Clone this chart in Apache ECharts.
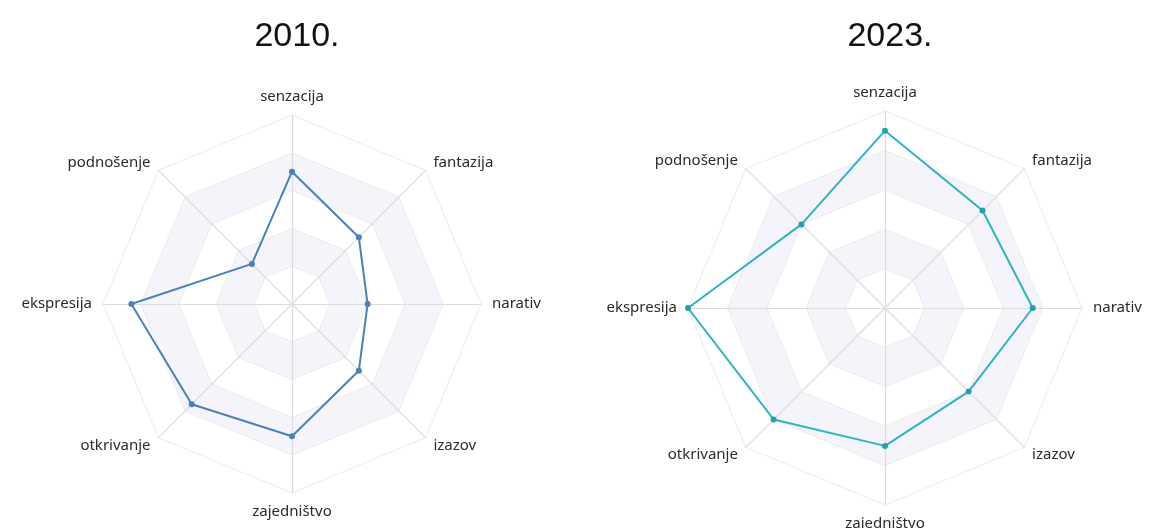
<!DOCTYPE html>
<html>
<head>
<meta charset="utf-8">
<script src="https://cdn.jsdelivr.net/npm/echarts@6/dist/echarts.min.js"></script>
<style>
html,body{margin:0;padding:0;background:#fff;}
#main{width:1153px;height:528px;}
</style>
</head>
<body>
<div id="main"></div>
<script>
// Categories in clockwise order starting from the top
const categories = ['senzacija','fantazija','narativ','izazov','zajedništvo','otkrivanje','ekspresija','podnošenje'];
const values2010 = [7, 5, 4, 5, 7, 7.5, 8.5, 3];
const values2023 = [9, 7, 7.5, 6, 7, 8, 10, 6];
const titles = ['2010.', '2023.'];
const maxValue = 10;

// ECharts places indicators counter-clockwise; reorder so they appear clockwise
function reorder(arr){ return [arr[0]].concat(arr.slice(1).reverse()); }
const indicator = reorder(categories).map(n => ({name: n, max: maxValue}));

const chart = echarts.init(document.getElementById('main'));
const radarBase = {
  indicator: indicator,
  splitNumber: 5,
  nameGap: 11,
  axisName: {color: '#2a2a2a', fontSize: 15, fontFamily: 'Noto Sans'},
  axisLine: {lineStyle: {color: '#dcdcdc', width: 1.2}},
  splitLine: {lineStyle: {color: '#ebebeb', width: 1}},
  splitArea: {show: true, areaStyle: {color: ['#ffffff', '#f4f4fa']}}
};
chart.setOption({
  animation: false,
  title: [
    {text: titles[0], left: 292, top: 15, textAlign: 'center',
     textStyle: {fontFamily: 'Liberation Sans', fontWeight: 'normal', fontSize: 34, color: '#111'}},
    {text: titles[1], left: 885, top: 15, textAlign: 'center',
     textStyle: {fontFamily: 'Liberation Sans', fontWeight: 'normal', fontSize: 34, color: '#111'}}
  ],
  radar: [
    Object.assign({center: [292, 304], radius: 189}, radarBase),
    Object.assign({center: [885, 308], radius: 197}, radarBase)
  ],
  series: [
    {type: 'radar', radarIndex: 0, symbol: 'circle', symbolSize: 6,
     lineStyle: {color: '#4c7fbc', width: 2}, itemStyle: {color: '#4c7fbc'},
     data: [{value: reorder(values2010), name: titles[0]}]},
    {type: 'radar', radarIndex: 1, symbol: 'circle', symbolSize: 6,
     lineStyle: {color: '#2cb5c0', width: 2}, itemStyle: {color: '#1fa3ad'},
     data: [{value: reorder(values2023), name: titles[1]}]}
  ]
});
</script>
</body>
</html>
